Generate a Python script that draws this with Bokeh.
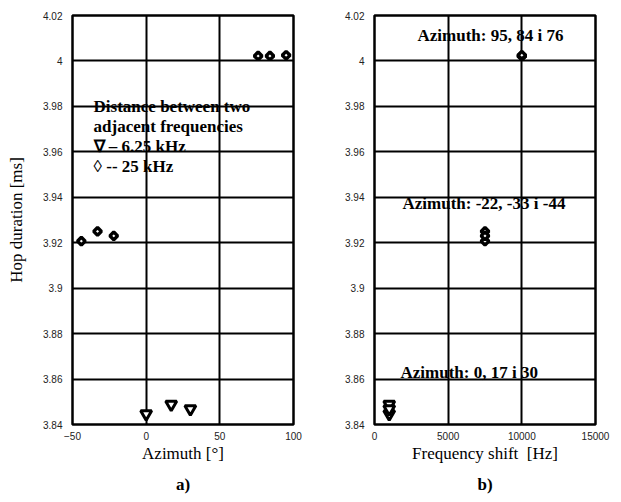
from bokeh.plotting import figure
from bokeh.layouts import row
from bokeh.models import (ColumnDataSource, Label, FixedTicker, CustomJSTickFormatter,
                          Range1d, Title)
from bokeh.embed import file_html
from bokeh.resources import INLINE

# ---- data ----
az_625 = [0, 17, 30]
hop_625 = [3.8447, 3.8488, 3.8469]
shift_625 = [1000, 1000, 1000]

az_25 = [-44, -33, -22, 76, 84, 95]
hop_25 = [3.9207, 3.9250, 3.9230, 4.0022, 4.0022, 4.0025]
shift_25 = [7500, 7500, 7500, 10000, 10000, 10000]

y_ticks = [3.84, 3.86, 3.88, 3.90, 3.92, 3.94, 3.96, 3.98, 4.00, 4.02]
xa_ticks = [-50, 0, 50, 100]
xb_ticks = [0, 5000, 10000, 15000]

legend_lines = ["Distance between two", "adjacent frequencies",
                "\u2207 \u2013 6.25 kHz", "\u25ca -- 25 kHz"]
ann_b = ["Azimuth: 95, 84 i 76", "Azimuth: -22, -33 i -44", "Azimuth: 0, 17 i 30"]

SERIF = "Liberation Serif"
SANS = "Liberation Sans"

src_625 = ColumnDataSource(dict(az=az_625, hop=hop_625, shift=shift_625))
src_25 = ColumnDataSource(dict(az=az_25, hop=hop_25, shift=shift_25))

fmt = CustomJSTickFormatter(code="return Number(tick.toFixed(2)).toString();")


def style(p, xticks):
    p.outline_line_color = "black"
    p.outline_line_width = 2.5
    p.background_fill_color = "white"
    p.border_fill_color = "white"
    for g in (p.xgrid[0], p.ygrid[0]):
        g.grid_line_color = "black"
        g.grid_line_width = 2
    p.xaxis.ticker = FixedTicker(ticks=xticks)
    p.yaxis.ticker = FixedTicker(ticks=y_ticks)
    p.xgrid.ticker = FixedTicker(ticks=xticks)
    p.ygrid.ticker = FixedTicker(ticks=y_ticks)
    p.yaxis.formatter = fmt
    for ax in (p.xaxis[0], p.yaxis[0]):
        ax.axis_line_color = None
        ax.major_tick_line_color = None
        ax.minor_tick_line_color = None
        ax.major_label_text_font = SANS
        ax.major_label_text_font_size = "10px"
        ax.major_label_text_color = "#222222"
        ax.axis_label_text_font = SERIF
        ax.axis_label_text_font_size = "17px"
        ax.axis_label_text_font_style = "normal"
        ax.axis_label_text_color = "black"
    p.xaxis.major_label_standoff = 1
    p.yaxis.major_label_standoff = 4


def markers(p, xcol):
    p.scatter(xcol, "hop", source=src_25, marker="square", angle=0.785398,
              size=5.5, fill_color="white", line_color="black", line_width=3.4)
    p.scatter(xcol, "hop", source=src_625, marker="inverted_triangle",
              size=11, fill_color="white", line_color="black", line_width=3)


def panel_title(p, txt, off):
    p.add_layout(Title(text=txt, align="center", offset=off, standoff=15,
                       text_font=SERIF, text_font_size="17px",
                       text_font_style="bold", text_color="black"), "below")


# ---- panel a ----
p1 = figure(width=310, height=502, output_backend="svg", toolbar_location=None,
            x_range=Range1d(-50, 100), y_range=Range1d(3.84, 4.02),
            min_border_left=72, min_border_right=17, min_border_top=15,
            min_border_bottom=78)
style(p1, xa_ticks)
p1.xaxis.axis_label = "Azimuth [\u00b0]"
p1.yaxis.axis_label = "Hop duration [ms]"
p1.xaxis.axis_label_standoff = 1
p1.yaxis.axis_label_standoff = 14
markers(p1, "az")

leg_y = [3.9800, 3.9712, 3.9624, 3.9535]
for txt, yy in zip(legend_lines, leg_y):
    p1.add_layout(Label(x=-35.7, y=yy, text=txt, text_font=SERIF,
                        text_font_size="17px", text_font_style="bold",
                        text_baseline="middle", text_align="left",
                        text_color="black"))
panel_title(p1, "a)", 14)

# ---- panel b ----
p2 = figure(width=311, height=502, output_backend="svg", toolbar_location=None,
            x_range=Range1d(0, 15000), y_range=Range1d(3.84, 4.02),
            min_border_left=64, min_border_right=26, min_border_top=15,
            min_border_bottom=78)
style(p2, xb_ticks)
p2.xaxis.axis_label = "Frequency shift\u00a0\u00a0[Hz]"
p2.xaxis.axis_label_standoff = 1
markers(p2, "shift")

ann_pos = [(2919, 4.0112), (1900, 3.9373), (1765, 3.8629)]
for txt, (xx, yy) in zip(ann_b, ann_pos):
    p2.add_layout(Label(x=xx, y=yy, text=txt, text_font=SERIF,
                        text_font_size="17px", text_font_style="bold",
                        text_baseline="middle", text_align="left",
                        text_color="black"))
panel_title(p2, "b)", -21)

layout = row(p1, p2, spacing=0)
open("out.html", "w").write(file_html(layout, INLINE))
